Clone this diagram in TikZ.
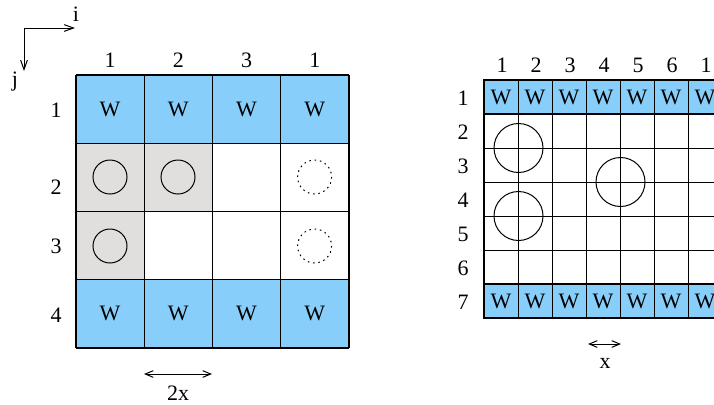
\documentclass[tikz,border=0pt]{standalone}
\usepackage{fontspec}
\setmainfont{Liberation Serif}
\usetikzlibrary{arrows.meta}

\definecolor{wallblue}{HTML}{87CEFA}
\definecolor{cellgray}{HTML}{E0DFDE}

\tikzset{every picture/.style={line width=0.75pt},
  lbl/.style={inner sep=0.75pt, font=\fontsize{16.5}{19}\selectfont},
  gap/.style={{Straight Barb[length=6pt,width=5pt]}-{Straight Barb[length=6pt,width=5pt]}},
  ghost/.style={dash pattern=on 1.2pt off 2.8pt}}

\begin{document}
\begin{tikzpicture}[x=0.75pt,y=0.75pt,yscale=-1,xscale=1]
\clip (0,0) rectangle (714,404);

%Axes
\coordinate (orig) at (24,28);
\coordinate (iend) at (75,28);
\coordinate (jend) at (24,71);
\draw [-{Straight Barb[length=7pt,width=5pt]}] (orig) -- (iend);
\draw [-{Straight Barb[length=7pt,width=5pt]}] (orig) -- (jend);
% Text Node
\node [lbl] (ilab) at (76,14) {i};
% Text Node
\node [lbl] (jlab) at (15,82) {j};

%Left grid: fills
\foreach \c in {0,...,3} {
  \fill [wallblue] ({76+\c*68.25},75) rectangle +(68.25,68.25);
  \fill [wallblue] ({76+\c*68.25},279.75) rectangle +(68.25,68.25);
}
\fill [cellgray] (76,143.25) rectangle (212.5,211.5);
\fill [cellgray] (76,211.5) rectangle (144.25,279.75);
%Left grid: lines
\foreach \k in {0,...,4} {
  \draw [line width=0.9pt] ({76+\k*68.25},75) -- ({76+\k*68.25},348);
  \draw [line width=0.9pt] (76,{75+\k*68.25}) -- (349,{75+\k*68.25});
}
%Left grid: walls, labels
\foreach \c/\t [count=\n] in {0/1,1/2,2/3,3/1} {
  \node [lbl] (lw-\n-1) at ({110.1+\c*68.25},109.1) {W};
  \node [lbl] (lw-\n-4) at ({110.1+\c*68.25},313.9) {W};
  \node [lbl] (lcol-\n) at ({110.1+\c*68.25},60) {\t};
}
\foreach \r/\y in {1/110,2/187,3/246,4/315}
  \node [lbl] (lrow-\r) at (56,\y) {\r};
%Particles
\draw (110,177) circle (17);
\draw (178,177) circle (17);
\draw (110,246) circle (17);
\draw [ghost] (314.6,177) circle (17);
\draw [ghost] (314.6,246) circle (17);

%Spacing 2x
\coordinate (la) at (144,374);
\coordinate (lb) at (212,374);
\draw [gap] (la) -- (lb);
% Text Node
\node [lbl] (ltwo) at (178,393) {2x};

%Right grid: fills
\fill [wallblue] (484,80) rectangle (722,114);
\fill [wallblue] (484,284) rectangle (722,318);
%Right grid: lines
\foreach \k in {0,...,7} {
  \draw ({484+\k*34},80) -- ({484+\k*34},318);
  \draw (484,{80+\k*34}) -- (722,{80+\k*34});
}
\draw [line width=1.2pt] (484,80) rectangle (722,114);
\draw [line width=1.2pt] (484,284) rectangle (722,318);
\draw [line width=1pt] (484,80) -- (484,318);
%Right grid: walls, labels
\foreach \t [count=\n] in {1,2,3,4,5,6,1} {
  \node [lbl] (rw-\n-1) at ({467+\n*34},97) {W};
  \node [lbl] (rw-\n-7) at ({467+\n*34},301) {W};
  \node [lbl] (rcol-\n) at ({468+\n*34},65) {\t};
}
\foreach \r in {1,...,7}
  \node [lbl] (rrow-\r) at (463,{64.5+\r*34}) {\r};
%Particles
\draw (518.5,148) circle (24.5);
\draw (518.5,216) circle (24.5);
\draw (620.5,182) circle (24.5);

%Spacing x
\coordinate (ra) at (588,344);
\coordinate (rb) at (621,344);
\draw [gap] (ra) -- (rb);
% Text Node
\node [lbl] (rone) at (605,363) {x};

\end{tikzpicture}
\end{document}
